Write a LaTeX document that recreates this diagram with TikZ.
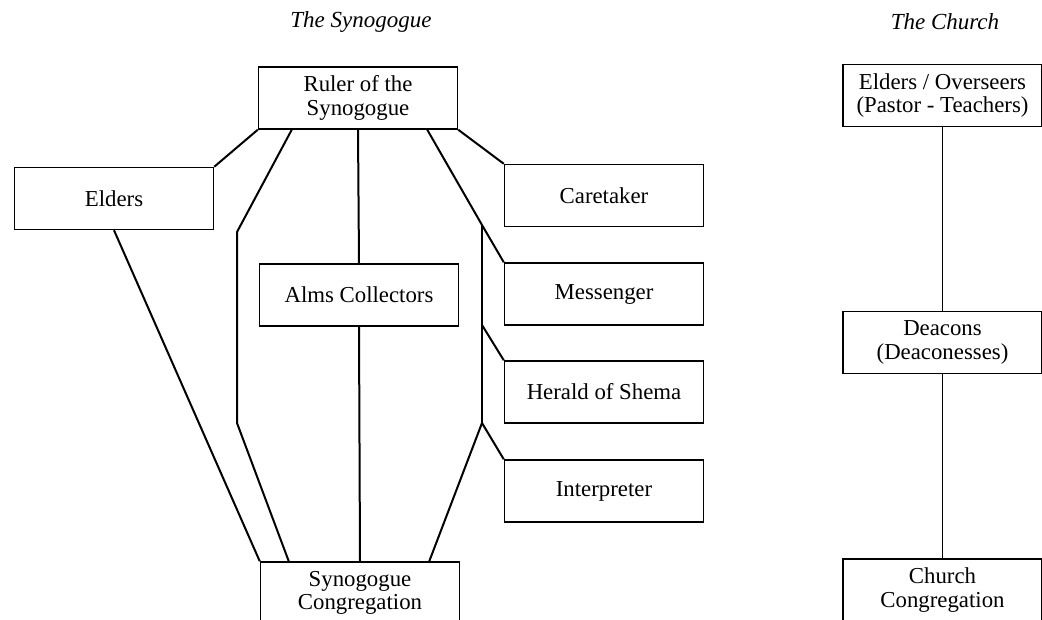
\documentclass[tikz,border=0pt]{standalone}
\usepackage{fontspec}
\setmainfont{Liberation Serif}
\begin{document}
\begin{tikzpicture}[x=1pt, y=-1pt,
        box/.style={draw, line width=1.5pt, minimum width=199pt, minimum height=62pt, inner sep=0pt, align=center, font=\fontsize{22.8}{23.5}\selectfont},
        link/.style={line width=2pt},
        thinlink/.style={line width=1.3pt},
        heading/.style={font=\fontsize{23}{24}\selectfont\itshape}]
        \clip (0, 0) rectangle (1042, 620);
        % Headings
        \node [heading] (synhead) at (361, 22) {The Synogogue};
        \node [heading] (chhead) at (945, 22) {The Church};
        % Synogogue
        \node [box] (ruler) at (358, 98) {Ruler of the\\Synogogue};
        \node [box] (elders) at (114, 198.5) {Elders};
        \node [box] (alms) at (359, 295) {Alms Collectors};
        \node [box] (caretaker) at (604, 195.5) {Caretaker};
        \node [box] (messenger) at (604, 294) {Messenger};
        \node [box] (herald) at (604, 392) {Herald of Shema};
        \node [box] (interpreter) at (604, 491) {Interpreter};
        \node [box] (congregation) at (360, 593) {Synogogue\\Congregation};
        % Church
        \node [box] (overseers) at (942.5, 95.5) {Elders / Overseers\\(Pastor - Teachers)};
        \node [box] (deacons) at (942.5, 342.5) {Deacons\\(Deaconesses)};
        \node [box] (church) at (942.5, 590) {Church\\Congregation};
        % Bends and junctions
        \coordinate (leftbendtop) at (237, 232);
        \coordinate (leftbendbot) at (237, 423);
        \coordinate (jmess) at (482, 225);
        \coordinate (jherald) at (482, 325);
        \coordinate (jinterp) at (482, 423);
        % Left side
        \draw [link] (ruler.south west) -- (elders.north east);
        \draw [link] (elders.south) -- (congregation.north west);
        \draw [link] ([xshift=34pt]ruler.south west) -- (leftbendtop) -- (leftbendbot) -- ([xshift=29pt]congregation.north west);
        % Middle
        \draw [link] (ruler.south) -- (alms.north);
        \draw [link] (alms.south) -- (congregation.north);
        % Right side
        \draw [link] (ruler.south east) -- (caretaker.north west);
        \draw [link] ([xshift=-31pt]ruler.south east) -- (jmess) -- (messenger.north west);
        \draw [link] (jmess) -- (jherald) -- (jinterp);
        \draw [link] (jherald) -- (herald.north west);
        \draw [link] (jinterp) -- (interpreter.north west);
        \draw [link] (jinterp) -- ([xshift=-31pt]congregation.north east);
        % Church lines
        \draw [thinlink] (overseers.south) -- (deacons.north);
        \draw [thinlink] (deacons.south) -- (church.north);
    \end{tikzpicture}
\end{document}
